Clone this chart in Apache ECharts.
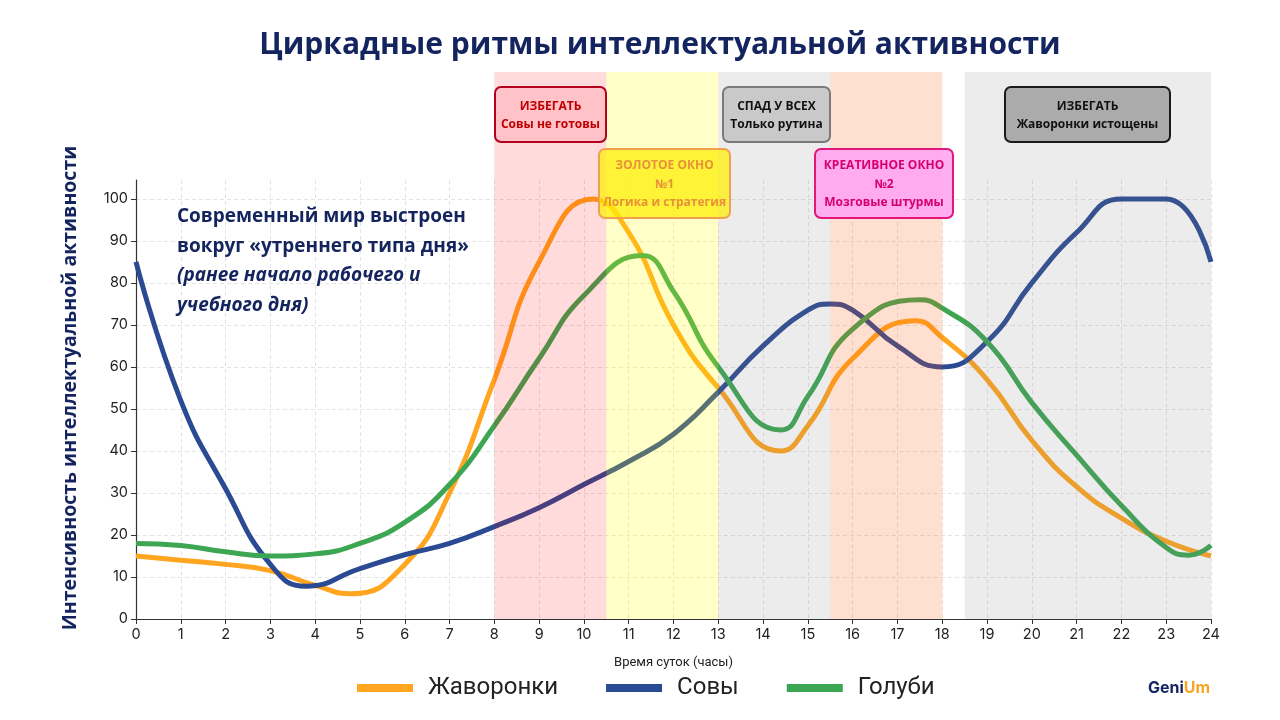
<!DOCTYPE html>
<html>
<head>
<meta charset="utf-8">
<script src="https://cdn.jsdelivr.net/npm/echarts@6/dist/echarts.min.js"></script>
<style>
html,body{margin:0;padding:0;background:#fff;}
#chart{width:1280px;height:720px;}
</style>
</head>
<body>
<div id="chart"></div>
<script>
// ---- data ----
const larksX = [0,1,2,3,4,4.8,6,7,8,9,10.2,11,12,13,14.4,15,16,17.4,18,19,20,21,22,23,24];
const larksY = [15,14,13,11.5,8,6,13,30,57,85,100,92,70,55,40,46,62,71,67,57,42.5,31.5,24,18.5,15];
const owlsX = [0,1,2,3,3.8,5,6,7,8,9,10,11,12,13,14,15,15.5,16,17,18,19,20,21,22,23,24];
const owlsY = [85,52,31,13,7.8,12,15.3,18,22,26.5,32,37.5,44,54,65,73.5,75,73.5,65,60,66,80,92,100,100,85];
const dovesX = [0,1,2,3,4,5,6,7,8,9,10,11.3,12,13,14.4,15,16,17.5,18,19,20,21,22,23,23.5,24];
const dovesY = [18,17.5,16,15,15.5,18,23,32,46,62,77,86.5,78,60,45,53,69,76,74,66,51.5,39,27,17,15.2,17.5];
const seriesNames = ['Жаворонки','Совы','Голуби'];
const bandStart = [8,10.5,13,15.5,18.5];
const bandEnd = [10.5,13,15.5,18,24];
const yTicks = [0,10,20,30,40,50,60,70,80,90,100];

// ---- styles ----
const lineColors = ['#FFA51F','#2B4A94','#3CA653'];
const bandColors = ['rgba(255,0,0,0.14)','rgba(255,255,0,0.22)','rgba(128,128,128,0.15)','rgba(255,95,20,0.2)','rgba(128,128,128,0.15)'];
const navy = '#14245e';

function pairs(xs, ys){ return xs.map((x,i)=>[x, ys[i]]); }

const chart = echarts.init(document.getElementById('chart'));

function box(x,y,w,h,fill,stroke,textColor,lines){
  const els = [{
    type:'rect', z:100,
    shape:{x:x,y:y,width:w,height:h,r:6},
    style:{fill:fill,stroke:stroke,lineWidth:2}
  }];
  const lh = 18.5;
  const y0 = y + h/2 - (lines.length-1)*lh/2 + 1;
  lines.forEach((t,i)=>{
    els.push({
      type:'text', z:101,
      x:x+w/2, y:y0+i*lh,
      style:{text:t, fill:textColor, font:'bold 12px "Open Sans"', align:'center', verticalAlign:'middle'}
    });
  });
  return els;
}

const graphics = [].concat(
  [{
    type:'text', z:100, x:660, y:45,
    style:{text:'Циркадные ритмы интеллектуальной активности', fill:navy,
      font:'bold 30px "Open Sans"', align:'center', verticalAlign:'middle'}
  },
  {
    type:'text', z:100, x:70, y:388, rotation:Math.PI/2,
    style:{text:'Интенсивность интеллектуальной активности', fill:navy,
      font:'bold 19.5px "Open Sans"', align:'center', verticalAlign:'middle'}
  },
  {
    type:'text', z:100, x:177, y:202,
    style:{
      text:'{b|Современный мир выстроен}\n{b|вокруг «утреннего типа дня»}\n{i|(ранее начало рабочего и}\n{i|учебного дня)}',
      rich:{
        b:{fontFamily:'Open Sans',fontWeight:'bold',fontSize:19,fill:navy,lineHeight:29.5},
        i:{fontFamily:'Open Sans',fontWeight:'bold',fontStyle:'italic',fontSize:19,fill:navy,lineHeight:29.5}
      }
    }
  },
  {
    type:'text', z:100, x:1148, y:688,
    style:{
      text:'{a|Geni}{b|Um}',
      verticalAlign:'middle',
      rich:{
        a:{fontFamily:'Inter',fontWeight:'bold',fontSize:16,fill:navy},
        b:{fontFamily:'Inter',fontWeight:'bold',fontSize:16,fill:'#F5A623'}
      }
    }
  }],
  box(495,87,111,55,'rgba(255,185,195,0.75)','#b3001b','#c00000',['ИЗБЕГАТЬ','Совы не готовы']),
  box(599,149,131,69,'rgba(255,238,0,0.72)','#f0a050','#e8903a',['ЗОЛОТОЕ ОКНО','№1','Логика и стратегия']),
  box(723,87,107,55,'#c9c9c9','#7a7a7a','#111',['СПАД У ВСЕХ','Только рутина']),
  box(815,149,138,69,'rgba(255,165,240,0.9)','#e0187a','#d4006e',['КРЕАТИВНОЕ ОКНО','№2','Мозговые штурмы']),
  box(1005,87,165,55,'#ababab','#1a1a1a','#111',['ИЗБЕГАТЬ','Жаворонки истощены'])
);

const option = {
  backgroundColor:'#fff',
  animation:false,
  graphic: graphics,
  legend:{
    data: seriesNames,
    left: 352, top: 671,
    icon:'rect', itemWidth:56, itemHeight:8, itemGap:48,
    textStyle:{fontFamily:'Roboto', fontSize:24, color:'#222', padding:[0,0,0,10]}
  },
  grid:[
    {left:136, right:69, top:180, bottom:101},
    {left:136, right:69, top:72, bottom:101}
  ],
  xAxis:[
    {
      type:'value', gridIndex:0, min:0, max:24, interval:1,
      name:'Время суток (часы)', nameLocation:'middle', nameGap:37,
      nameTextStyle:{fontFamily:'Roboto', fontSize:13, color:'#222'},
      axisLine:{lineStyle:{color:'#333', width:1.2}},
      axisTick:{show:true, length:5, lineStyle:{color:'#333'}},
      axisLabel:{fontFamily:'Inter', fontSize:14.5, color:'#222', margin:8},
      splitLine:{show:true, lineStyle:{color:'#e4e4e4', type:[4,3], width:1}}
    },
    {type:'value', gridIndex:1, min:0, max:24, show:false}
  ],
  yAxis:[
    {
      type:'value', gridIndex:0, min:0, max:104.5, interval:10,
      axisLine:{show:true, lineStyle:{color:'#333', width:1.2}},
      axisTick:{show:true, length:5, lineStyle:{color:'#333'}, customValues: yTicks},
      axisLabel:{fontFamily:'Inter', fontSize:14.5, color:'#222', margin:8, customValues: yTicks,
        formatter:function(v){ return v>100 ? '' : String(v); }},
      splitLine:{show:true, lineStyle:{color:'#e4e4e4', type:[4,3], width:1}}
    },
    {type:'value', gridIndex:1, min:0, max:1, show:false}
  ],
  series:[
    {
      name:seriesNames[0], type:'line', xAxisIndex:0, yAxisIndex:0, z:2,
      data:pairs(larksX,larksY), smooth:0.5, showSymbol:false,
      lineStyle:{width:5, color:lineColors[0]}, itemStyle:{color:lineColors[0]}
    },
    {
      name:seriesNames[1], type:'line', xAxisIndex:0, yAxisIndex:0, z:2,
      data:pairs(owlsX,owlsY), smooth:0.5, showSymbol:false,
      lineStyle:{width:5, color:lineColors[1]}, itemStyle:{color:lineColors[1]}
    },
    {
      name:seriesNames[2], type:'line', xAxisIndex:0, yAxisIndex:0, z:2,
      data:pairs(dovesX,dovesY), smooth:0.5, showSymbol:false,
      lineStyle:{width:5, color:lineColors[2]}, itemStyle:{color:lineColors[2]}
    },
    {
      type:'custom', xAxisIndex:1, yAxisIndex:1, z:5, silent:true,
      data: bandStart.map((s,i)=>[s, bandEnd[i]]),
      renderItem:function(params, api){
        const p0 = api.coord([api.value(0), 1]);
        const p1 = api.coord([api.value(1), 0]);
        return {type:'rect', shape:{x:p0[0], y:p0[1], width:p1[0]-p0[0], height:p1[1]-p0[1]},
          style:{fill:bandColors[params.dataIndex]}};
      }
    }
  ]
};
chart.setOption(option);
</script>
</body>
</html>
